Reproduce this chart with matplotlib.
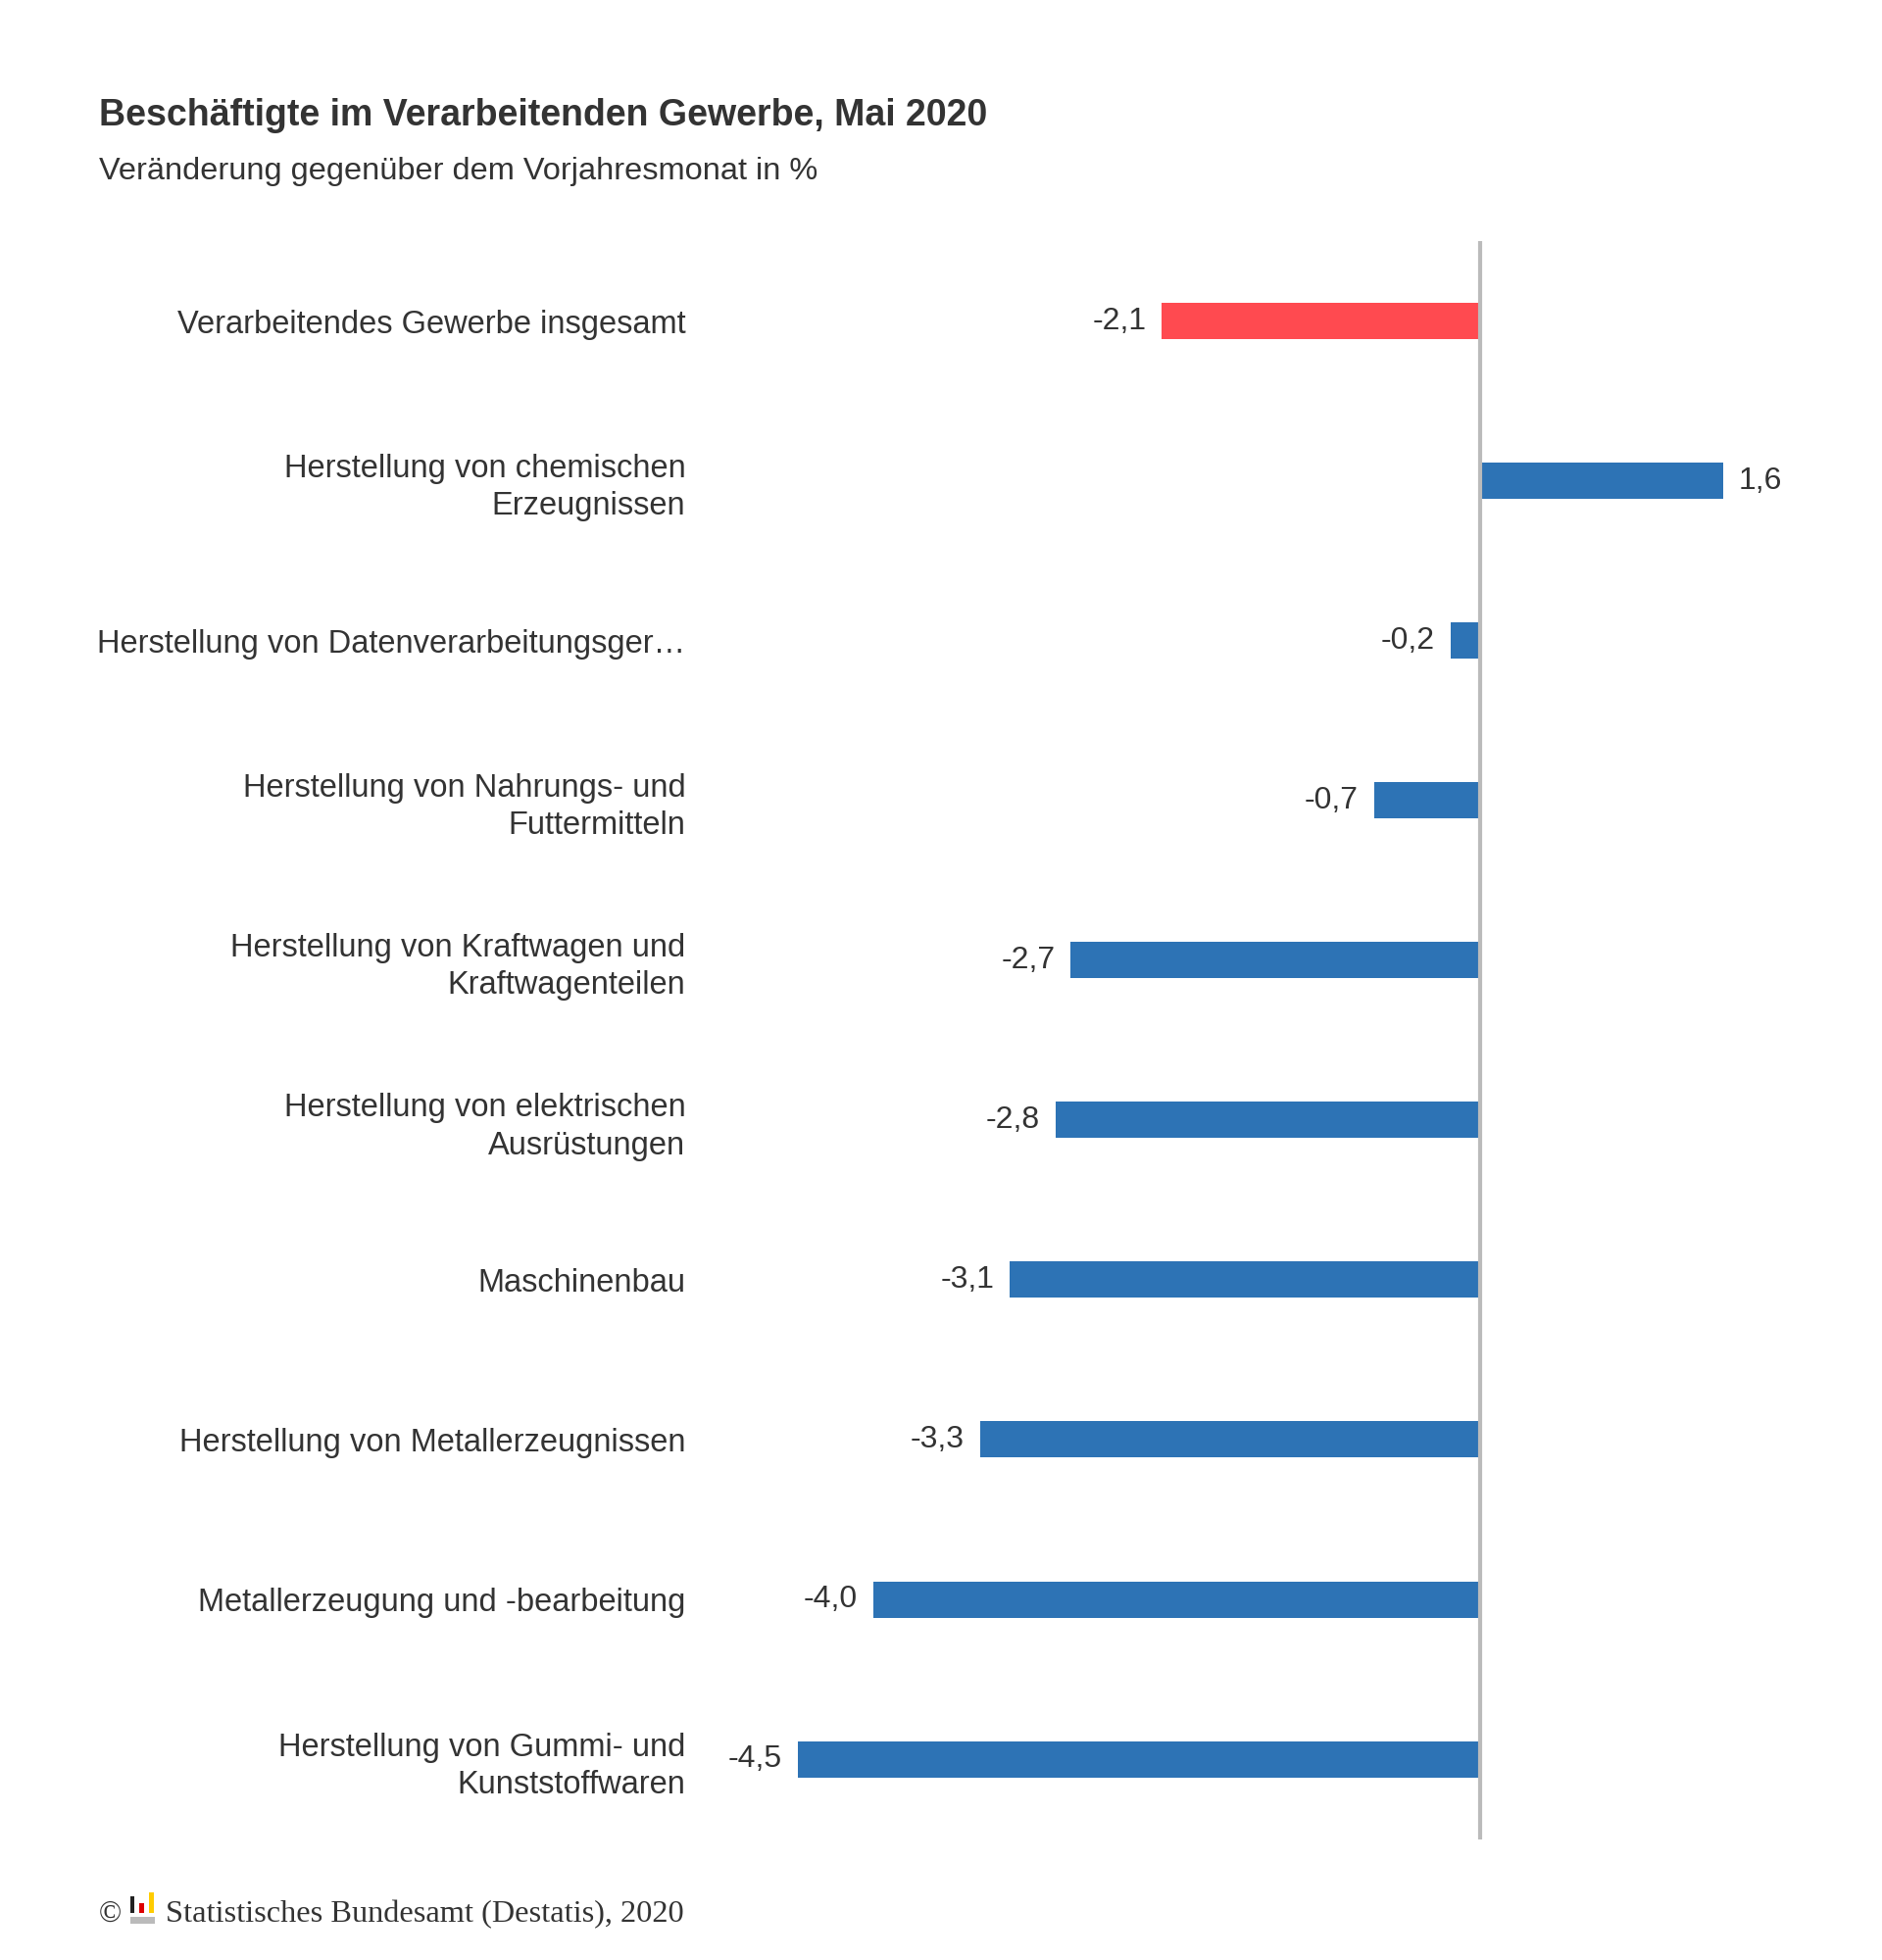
import matplotlib
matplotlib.use("Agg")
import matplotlib.pyplot as plt
from matplotlib.patches import Rectangle

categories = [
    "Verarbeitendes Gewerbe insgesamt",
    "Herstellung von chemischen\nErzeugnissen",
    "Herstellung von Datenverarbeitungsger…",
    "Herstellung von Nahrungs- und\nFuttermitteln",
    "Herstellung von Kraftwagen und\nKraftwagenteilen",
    "Herstellung von elektrischen\nAusrüstungen",
    "Maschinenbau",
    "Herstellung von Metallerzeugnissen",
    "Metallerzeugung und -bearbeitung",
    "Herstellung von Gummi- und\nKunststoffwaren",
]
values = [-2.1, 1.6, -0.2, -0.7, -2.7, -2.8, -3.1, -3.3, -4.0, -4.5]
value_labels = ["-2,1", "1,6", "-0,2", "-0,7", "-2,7", "-2,8", "-3,1", "-3,3", "-4,0", "-4,5"]
colors = ["#FF4A50"] + ["#2D73B5"] * 9

title = "Beschäftigte im Verarbeitenden Gewerbe, Mai 2020"
subtitle = "Veränderung gegenüber dem Vorjahresmonat in %"
source = "Statistisches Bundesamt (Destatis), 2020"

plt.rcParams['font.family'] = ['Liberation Sans', 'DejaVu Sans']
TXT = "#333333"

fig = plt.figure(figsize=(19.2, 20), dpi=100)
fig.patch.set_facecolor("white")
ax = fig.add_axes([0.373, 0.0617, 0.60, 0.8153])

n = len(categories)
ypos = list(range(n))
ax.barh(ypos, values, height=0.227, color=colors, zorder=2)
ax.set_ylim(n - 0.5, -0.5)
ax.set_xlim(-5.13, 2.31)
ax.axvline(0, color="#BBBBBB", lw=3, zorder=3)

for s in ax.spines.values():
    s.set_visible(False)
ax.set_xticks([])
ax.set_yticks(ypos)
ax.set_yticklabels(categories, fontsize=23.5, color=TXT, linespacing=1.3)
ax.tick_params(axis='y', length=0, pad=12)

for y, v, lab in zip(ypos, values, value_labels):
    if v < 0:
        ax.annotate(lab, (v, y), xytext=(-16, 0), textcoords="offset pixels",
                    ha="right", va="center", fontsize=23, color=TXT)
    else:
        ax.annotate(lab, (v, y), xytext=(15, 0), textcoords="offset pixels",
                    ha="left", va="center", fontsize=23, color=TXT)

fig.text(101 / 1920, 1 - 128 / 2000, title, fontsize=27, fontweight="bold", color=TXT,
         ha="left", va="baseline")
fig.text(101 / 1920, 1 - 183 / 2000, subtitle, fontsize=23.4, color=TXT,
         ha="left", va="baseline")

# footer
fy = 1961
fig.text(101 / 1920, 1 - fy / 2000, "©", fontsize=22, color=TXT,
         family=["Liberation Serif", "DejaVu Serif"], ha="left", va="baseline")
def frect(x0, y0, x1, y1, c):
    fig.add_artist(Rectangle((x0 / 1920, 1 - y1 / 2000), (x1 - x0) / 1920, (y1 - y0) / 2000,
                             transform=fig.transFigure, color=c, lw=0))
frect(133, 1935, 137, 1952, "#222222")
frect(142, 1942, 147, 1952, "#DD0000")
frect(152, 1931, 157, 1952, "#FFCC00")
frect(133, 1956, 158, 1963, "#BBBBBB")
fig.text(169 / 1920, 1 - fy / 2000, source, fontsize=23.3, color=TXT,
         family=["Liberation Serif", "DejaVu Serif"], ha="left", va="baseline")

fig.savefig("out.png", dpi=100, facecolor="white")
